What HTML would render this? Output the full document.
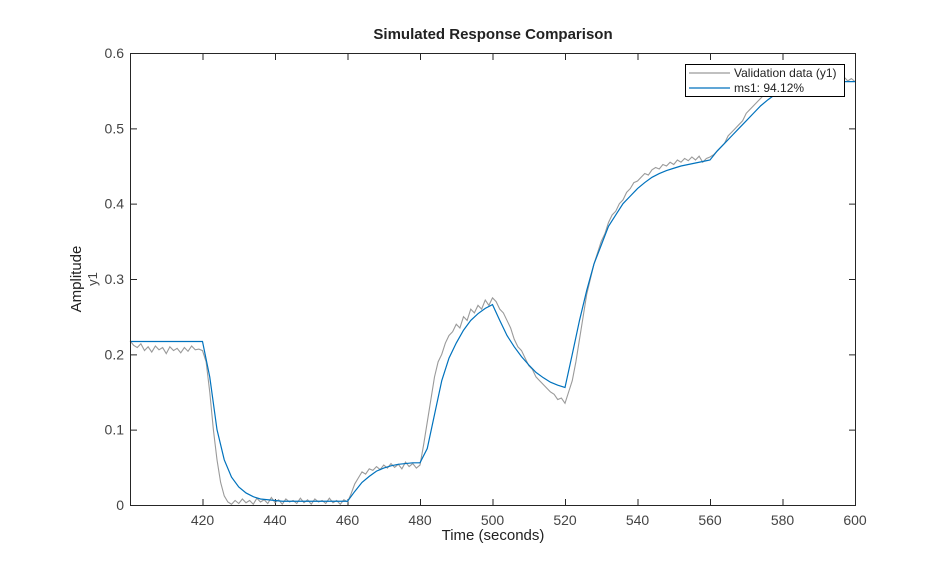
<!DOCTYPE html>
<html><head><meta charset="utf-8"><style>
body{margin:0;background:#fff;font-family:"Liberation Sans",sans-serif}
svg text{font-family:"Liberation Sans",sans-serif}
</style></head><body>
<svg id="c" width="946" height="569">
<rect width="946" height="569" fill="#fff"/>
<text x="493" y="39" text-anchor="middle" font-size="15" font-weight="bold" fill="#222">Simulated Response Comparison</text>
<text x="493" y="540" text-anchor="middle" font-size="15" fill="#222">Time (seconds)</text>
<text transform="translate(81,279) rotate(-90)" text-anchor="middle" font-size="15" fill="#222">Amplitude</text>
<text transform="translate(97,279) rotate(-90)" text-anchor="middle" font-size="13" fill="#444">y1</text>
<g id="ticks"></g>
<g id="series"></g>
<rect x="130.5" y="53.5" width="725" height="452" fill="none" stroke="#262626" stroke-width="1"/>
<g>
<rect x="685.5" y="64.5" width="159" height="32" fill="#fff" stroke="#000"/>
<line x1="689" y1="73" x2="730" y2="73" stroke="#9a9a9a" stroke-width="1.2"/>
<text x="734" y="77" font-size="12" fill="#222">Validation data (y1)</text>
<line x1="689" y1="88" x2="730" y2="88" stroke="#0072bd" stroke-width="1.2"/>
<text x="734" y="92" font-size="12" fill="#222">ms1: 94.12%</text>
</g>
</svg>
<script>
const xTicks=[420,440,460,480,500,520,540,560,580,600];
const yTicks=[0,0.1,0.2,0.3,0.4,0.5,0.6];
const yTickLabels=["0","0.1","0.2","0.3","0.4","0.5","0.6"];
const modelTimes=[];for(let t=400;t<=600;t+=2)modelTimes.push(t);
const modelValues=[0.217,0.217,0.217,0.217,0.217,0.217,0.217,0.217,0.217,0.217,0.217,
0.17,0.10,0.06,0.037,0.024,0.016,0.011,0.008,0.007,0.006,
0.005,0.005,0.005,0.005,0.005,0.005,0.005,0.005,0.005,0.005,
0.018,0.03,0.038,0.045,0.049,0.052,0.054,0.055,0.056,0.056,
0.075,0.12,0.165,0.195,0.215,0.232,0.245,0.254,0.261,0.266,
0.245,0.225,0.21,0.197,0.186,0.176,0.169,0.163,0.159,0.156,
0.2,0.245,0.285,0.32,0.345,0.37,0.385,0.4,0.41,0.42,
0.428,0.435,0.44,0.444,0.447,0.45,0.452,0.454,0.456,0.458,
0.47,0.48,0.49,0.5,0.51,0.52,0.53,0.538,0.545,0.55,
0.554,0.557,0.559,0.56,0.561,0.562,0.562,0.562,0.562,0.562];
const dataTimes=[];for(let t=400;t<=600;t+=1)dataTimes.push(t);
const dataValues=[0.218,0.212,0.209,0.214,0.205,0.210,0.203,0.211,0.206,0.209,0.201,0.210,0.205,0.208,0.202,0.209,0.204,0.211,0.206,0.207,0.205,
0.19,0.15,0.10,0.06,0.03,0.012,0.004,0.001,0.006,0.002,0.008,0.003,0.006,0.001,0.009,0.004,0.007,0.002,0.010,0.003,
0.007,0.001,0.008,0.004,0.006,0.002,0.009,0.003,0.007,0.001,0.008,0.004,0.006,0.002,0.009,0.003,0.006,0.001,0.007,0.004,
0.015,0.028,0.036,0.044,0.041,0.048,0.046,0.051,0.047,0.053,0.049,0.055,0.050,0.054,0.048,0.057,0.051,0.055,0.049,0.053,
0.08,0.11,0.14,0.17,0.19,0.2,0.215,0.225,0.23,0.24,0.235,0.25,0.245,0.26,0.255,0.265,0.26,0.272,0.265,0.275,
0.27,0.26,0.255,0.245,0.235,0.22,0.21,0.205,0.195,0.185,0.18,0.17,0.165,0.16,0.155,0.15,0.147,0.14,0.142,0.135,
0.15,0.165,0.19,0.22,0.25,0.28,0.3,0.32,0.335,0.35,0.36,0.375,0.385,0.39,0.40,0.405,0.415,0.42,0.428,0.43,
0.435,0.44,0.438,0.445,0.448,0.446,0.452,0.45,0.455,0.452,0.458,0.455,0.46,0.457,0.462,0.458,0.463,0.455,0.46,0.462,
0.465,0.47,0.475,0.48,0.49,0.495,0.5,0.505,0.51,0.52,0.525,0.53,0.535,0.54,0.545,0.548,0.55,0.555,0.552,0.558,
0.56,0.556,0.562,0.558,0.565,0.56,0.566,0.561,0.568,0.562,0.565,0.56,0.567,0.562,0.566,0.561,0.568,0.563,0.566,0.562];
const X0=130,X1=855,Y0=505,Y1=53;
const xs=t=>X0+(t-400)/200*(X1-X0);
const ys=v=>Y0-v/0.6*(Y0-Y1);
const NS='http://www.w3.org/2000/svg';
const tg=document.getElementById('ticks'),sg=document.getElementById('series');
function mk(tag,a,p){const e=document.createElementNS(NS,tag);for(const k in a)e.setAttribute(k,a[k]);p.appendChild(e);return e;}
xTicks.forEach(t=>{const x=xs(t)+0.5;
const l=mk('path',{d:`M${x},505 v-6 M${x},54 v6`,stroke:'#262626'},tg);


const tx=mk('text',{x:xs(t),y:525,'text-anchor':'middle','font-size':14,fill:'#444'},tg);tx.textContent=t;

});
yTicks.forEach((v,i)=>{const y=ys(v)+0.5;
const l=mk('path',{d:`M131,${y} h6 M855,${y} h-6`,stroke:'#262626'},tg);


const tx=mk('text',{x:124,y:ys(v)+5,'text-anchor':'end','font-size':14,fill:'#444'},tg);tx.textContent=yTickLabels[i];

});
const dp=mk('polyline',{points:dataTimes.map((t,i)=>xs(t)+','+ys(dataValues[i])).join(' '),fill:'none',stroke:'#9a9a9a','stroke-width':1.1},sg);


const mp=mk('polyline',{points:modelTimes.map((t,i)=>xs(t)+','+ys(modelValues[i])).join(' '),fill:'none',stroke:'#0072bd','stroke-width':1.2},sg);


</script>
</body></html>
